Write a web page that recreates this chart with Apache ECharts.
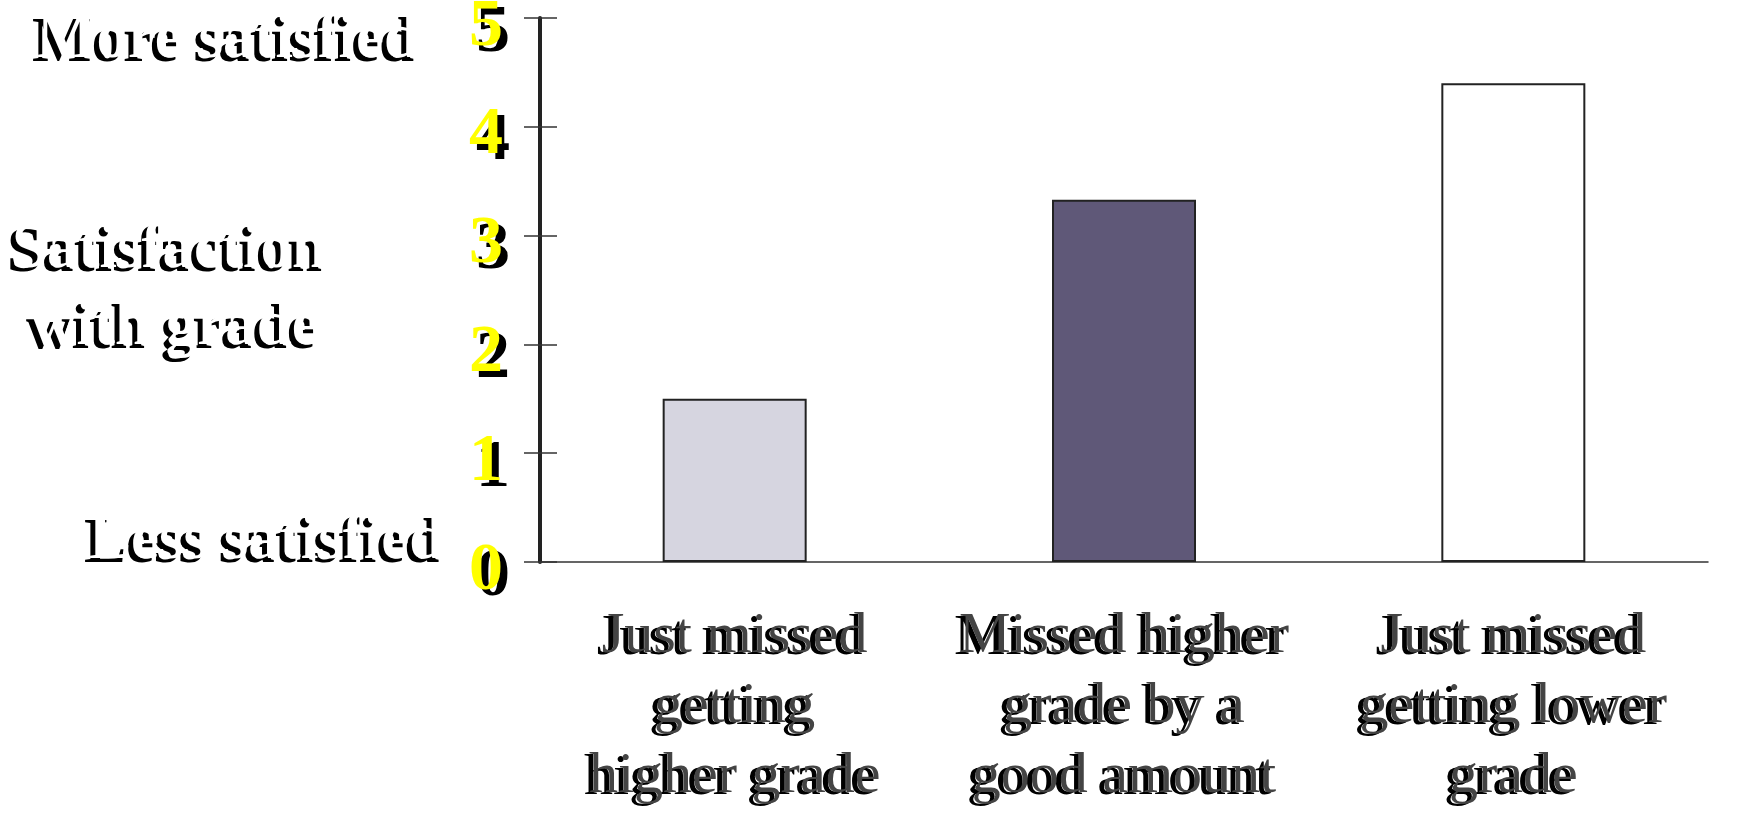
<!DOCTYPE html>
<html>
<head>
<meta charset="utf-8">
<title>Satisfaction with grade</title>
<script src="https://cdn.jsdelivr.net/npm/echarts@6/dist/echarts.min.js"></script>
<style>
  html, body { margin: 0; padding: 0; background: #ffffff; }
  #chart { width: 1752px; height: 815px; }
</style>
</head>
<body>
<div id="chart"></div>
<script>
// Outcome groups along the bottom axis
const categories = [
  'Just missed\ngetting\nhigher grade',
  'Missed higher\ngrade by a\ngood amount',
  'Just missed\ngetting lower\ngrade'
];
// Mean satisfaction rating for each group
const satisfaction = [1.5, 3.33, 4.4];
// Fill colour of each bar
const barFills = ['#d6d5e0', '#5f5878', '#ffffff'];
// Rating scale shown on the vertical axis
const yTicks = [0, 1, 2, 3, 4, 5];

const serif = '"Liberation Serif", "Times New Roman", serif';
// a near-zero blur keeps the drop shadows crisp while still enabling them
const CRISP = 0.01;

// white bold lettering with a hard black drop shadow, used for the scale captions
function caption(text, left, top) {
  return {
    text: text,
    left: left,
    top: top,
    padding: 0,
    textStyle: {
      fontFamily: serif,
      fontWeight: 'bold',
      fontSize: 63,
      color: '#ffffff',
      textShadowColor: '#000000',
      textShadowOffsetX: -5,
      textShadowOffsetY: 4,
      textShadowBlur: CRISP
    }
  };
}

const chart = echarts.init(document.getElementById('chart'));

chart.setOption({
  animation: false,
  backgroundColor: '#ffffff',
  title: [
    caption('More satisfied', 37, 9),
    caption('Satisfaction', 12, 219),
    caption('with grade', 31, 296),
    caption('Less satisfied', 89, 510)
  ],
  grid: { left: 540, right: 44, top: 18, bottom: 253, containLabel: false, outerBoundsMode: 'none' },
  xAxis: {
    type: 'category',
    data: categories,
    axisLine: { show: true, lineStyle: { color: '#333333', width: 1.5 } },
    axisTick: { show: false },
    axisLabel: {
      interval: 0,
      margin: 40,
      fontFamily: serif,
      fontSize: 58,
      lineHeight: 70,
      color: '#444444',
      textShadowColor: '#000000',
      textShadowOffsetX: -5,
      textShadowOffsetY: 2,
      textShadowBlur: CRISP
    }
  },
  yAxis: [
    {
      type: 'value',
      position: 'left',
      min: yTicks[0],
      max: yTicks[yTicks.length - 1],
      interval: 1,
      splitLine: { show: false },
      axisLine: { show: true, lineStyle: { color: '#222222', width: 4 } },
      axisTick: { show: true, inside: false, length: 16, lineStyle: { color: '#333333', width: 1.5 } },
      axisLabel: {
        margin: 37,
        fontFamily: serif,
        fontWeight: 'bold',
        fontSize: 68,
        color: '#ffff00',
        // a short line box anchored at the tick sits each digit a little below it
        verticalAlign: 'top',
        lineHeight: 18,
        textShadowColor: '#000000',
        textShadowOffsetX: 7,
        textShadowOffsetY: 6,
        textShadowBlur: CRISP
      }
    },
    {
      // inner half of the crossing tick marks
      type: 'value',
      position: 'left',
      offset: 0,
      min: yTicks[0],
      max: yTicks[yTicks.length - 1],
      interval: 1,
      splitLine: { show: false },
      axisLine: { show: false },
      axisTick: { show: true, inside: true, length: 17, lineStyle: { color: '#333333', width: 1.5 } },
      axisLabel: { show: false }
    }
  ],
  series: [{
    type: 'bar',
    yAxisIndex: 0,
    barWidth: 144,
    data: satisfaction.map((v, i) => ({
      value: v,
      itemStyle: { color: barFills[i], borderColor: '#222222', borderWidth: 2 }
    }))
  }]
});
</script>
</body>
</html>
